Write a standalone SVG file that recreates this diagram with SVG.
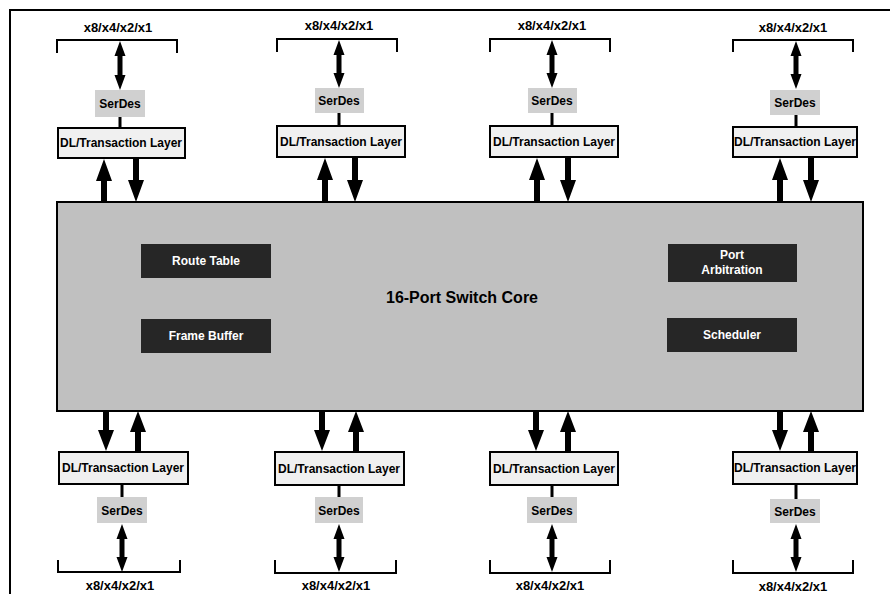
<svg xmlns="http://www.w3.org/2000/svg" width="890" height="594" viewBox="0 0 890 594">
<style>
text{font-family:"Liberation Sans",Arial,sans-serif;font-weight:bold;text-anchor:middle}
.lbl{font-size:13px;fill:#000}
.dl{fill:#f0f0f0;stroke:#000;stroke-width:2}
.dlt{font-size:12px;fill:#000}
.sd{fill:#d0d0d0}
.sdt{font-size:12px;fill:#000}
.core{fill:#c0c0c0;stroke:#000;stroke-width:2}
.blk{fill:#262626}
.blkt{font-size:12px;fill:#fff}
.br{fill:none;stroke:#000;stroke-width:2}
.ln{stroke:#000;stroke-width:3}
.ar{fill:#000}
</style>
<rect width="890" height="594" fill="#fff"/>
<path d="M10,594 V10 H890" fill="none" stroke="#000" stroke-width="2"/>

<g id="core">
<rect class="core" x="57" y="202" width="806" height="209"/>
<text x="462" y="303" style="font-size:16px">16-Port Switch Core</text>
</g>
<g id="route-table"><rect class="blk" x="141" y="244" width="130" height="34"/><text class="blkt" x="206" y="265">Route Table</text></g>
<g id="frame-buffer"><rect class="blk" x="141" y="319" width="130" height="34"/><text class="blkt" x="206" y="340">Frame Buffer</text></g>
<g id="port-arbitration"><rect class="blk" x="668" y="244" width="129" height="38"/><text class="blkt" x="732" y="259">Port</text><text class="blkt" x="732" y="274">Arbitration</text></g>
<g id="scheduler"><rect class="blk" x="667" y="318" width="130" height="34"/><text class="blkt" x="732" y="339">Scheduler</text></g>

<!-- top ports -->
<g id="port-t1">
<path class="br" d="M57,53 V40 H177 V53"/><text class="lbl" x="118" y="32">x8/x4/x2/x1</text>
<rect class="sd" x="95" y="90" width="50" height="27"/><text class="sdt" x="120" y="108">SerDes</text>
<rect class="dl" x="58" y="128" width="127" height="30"/><text class="dlt" x="121" y="147">DL/Transaction Layer</text>
</g>
<g id="port-t2">
<path class="br" d="M277,52 V39 H397 V52"/><text class="lbl" x="339" y="30">x8/x4/x2/x1</text>
<rect class="sd" x="315" y="88" width="49" height="25"/><text class="sdt" x="339" y="105">SerDes</text>
<rect class="dl" x="277" y="126" width="128" height="31"/><text class="dlt" x="341" y="146">DL/Transaction Layer</text>
</g>
<g id="port-t3">
<path class="br" d="M490,52 V39 H610 V52"/><text class="lbl" x="552" y="30">x8/x4/x2/x1</text>
<rect class="sd" x="528" y="88" width="49" height="25"/><text class="sdt" x="552" y="105">SerDes</text>
<rect class="dl" x="490" y="126" width="128" height="31"/><text class="dlt" x="554" y="146">DL/Transaction Layer</text>
</g>
<g id="port-t4">
<path class="br" d="M733,52 V40 H853 V52"/><text class="lbl" x="793" y="32">x8/x4/x2/x1</text>
<rect class="sd" x="770" y="90" width="50" height="25"/><text class="sdt" x="795" y="107">SerDes</text>
<rect class="dl" x="733" y="127" width="124" height="30"/><text class="dlt" x="795" y="146">DL/Transaction Layer</text>
</g>

<!-- bottom ports -->
<g id="port-b1">
<rect class="dl" x="59" y="452" width="129" height="32"/><text class="dlt" x="123" y="472">DL/Transaction Layer</text>
<rect class="sd" x="97" y="497" width="50" height="26"/><text class="sdt" x="122" y="515">SerDes</text>
<path class="br" d="M58,560 V572 H180 V560"/><text class="lbl" x="120" y="590">x8/x4/x2/x1</text>
</g>
<g id="port-b2">
<rect class="dl" x="275" y="452" width="129" height="33"/><text class="dlt" x="339" y="473">DL/Transaction Layer</text>
<rect class="sd" x="315" y="497" width="48" height="26"/><text class="sdt" x="339" y="515">SerDes</text>
<path class="br" d="M275,560 V573 H396 V560"/><text class="lbl" x="336" y="590">x8/x4/x2/x1</text>
</g>
<g id="port-b3">
<rect class="dl" x="490" y="452" width="128" height="33"/><text class="dlt" x="554" y="473">DL/Transaction Layer</text>
<rect class="sd" x="527" y="497" width="50" height="26"/><text class="sdt" x="552" y="515">SerDes</text>
<path class="br" d="M490,560 V573 H610 V560"/><text class="lbl" x="550" y="590">x8/x4/x2/x1</text>
</g>
<g id="port-b4">
<rect class="dl" x="733" y="452" width="124" height="32"/><text class="dlt" x="795" y="472">DL/Transaction Layer</text>
<rect class="sd" x="770" y="499" width="50" height="24"/><text class="sdt" x="795" y="516">SerDes</text>
<path class="br" d="M733,560 V573 H853 V560"/><text class="lbl" x="793" y="591">x8/x4/x2/x1</text>
</g>

<g id="connectors">
<!-- serdes to DL links -->
<line class="ln" x1="120" y1="117" x2="120" y2="128"/>
<line class="ln" x1="339" y1="113" x2="339" y2="126"/>
<line class="ln" x1="552" y1="113" x2="552" y2="126"/>
<line class="ln" x1="796" y1="115" x2="796" y2="127"/>
<line class="ln" x1="122" y1="484" x2="122" y2="497"/>
<line class="ln" x1="339" y1="485" x2="339" y2="497"/>
<line class="ln" x1="552" y1="485" x2="552" y2="497"/>
<line class="ln" x1="796" y1="484" x2="796" y2="499"/>

<!-- double arrows -->
<path class="ar" d="M120,41 L125.5,56 L122.5,56 L122.5,75 L125.5,75 L120,90 L114.5,75 L117.5,75 L117.5,56 L114.5,56 Z"/>
<path class="ar" d="M339,40 L344.5,55 L341.5,55 L341.5,73 L344.5,73 L339,88 L333.5,73 L336.5,73 L336.5,55 L333.5,55 Z"/>
<path class="ar" d="M552,40 L557.5,55 L554.5,55 L554.5,73 L557.5,73 L552,88 L546.5,73 L549.5,73 L549.5,55 L546.5,55 Z"/>
<path class="ar" d="M796,41 L801.5,56 L798.5,56 L798.5,74 L801.5,74 L796,89 L790.5,74 L793.5,74 L793.5,56 L790.5,56 Z"/>
<path class="ar" d="M122,524 L127.5,539 L124.5,539 L124.5,557 L127.5,557 L122,572 L116.5,557 L119.5,557 L119.5,539 L116.5,539 Z"/>
<path class="ar" d="M339,524 L344.5,539 L341.5,539 L341.5,557 L344.5,557 L339,572 L333.5,557 L336.5,557 L336.5,539 L333.5,539 Z"/>
<path class="ar" d="M552,524 L557.5,539 L554.5,539 L554.5,557 L557.5,557 L552,572 L546.5,557 L549.5,557 L549.5,539 L546.5,539 Z"/>
<path class="ar" d="M796,524 L801.5,539 L798.5,539 L798.5,557 L801.5,557 L796,572 L790.5,557 L793.5,557 L793.5,539 L790.5,539 Z"/>

<!-- top core arrows: up (core to DL), down (DL to core) -->
<path class="ar" d="M104,159 L112,181 L107,181 L107,202 L101,202 L101,181 L96,181 Z"/>
<path class="ar" d="M136,202 L144,180 L139,180 L139,159 L133,159 L133,180 L128,180 Z"/>
<path class="ar" d="M325,158 L333,180 L328,180 L328,202 L322,202 L322,180 L317,180 Z"/>
<path class="ar" d="M355,202 L363,180 L358,180 L358,158 L352,158 L352,180 L347,180 Z"/>
<path class="ar" d="M537,158 L545,180 L540,180 L540,202 L534,202 L534,180 L529,180 Z"/>
<path class="ar" d="M568,202 L576,180 L571,180 L571,158 L565,158 L565,180 L560,180 Z"/>
<path class="ar" d="M780,158 L788,180 L783,180 L783,202 L777,202 L777,180 L772,180 Z"/>
<path class="ar" d="M811,202 L819,180 L814,180 L814,158 L808,158 L808,180 L803,180 Z"/>

<!-- bottom core arrows: down (core to DL), up (DL to core) -->
<path class="ar" d="M106,451 L114,430 L109,430 L109,411 L103,411 L103,430 L98,430 Z"/>
<path class="ar" d="M138,411 L146,432 L141,432 L141,452 L135,452 L135,432 L130,432 Z"/>
<path class="ar" d="M322,451 L330,430 L325,430 L325,411 L319,411 L319,430 L314,430 Z"/>
<path class="ar" d="M356,411 L364,432 L359,432 L359,452 L353,452 L353,432 L348,432 Z"/>
<path class="ar" d="M536,451 L544,430 L539,430 L539,411 L533,411 L533,430 L528,430 Z"/>
<path class="ar" d="M568,411 L576,432 L571,432 L571,452 L565,452 L565,432 L560,432 Z"/>
<path class="ar" d="M780,451 L788,430 L783,430 L783,411 L777,411 L777,430 L772,430 Z"/>
<path class="ar" d="M811,411 L819,432 L814,432 L814,452 L808,452 L808,432 L803,432 Z"/>
</g>
</svg>
